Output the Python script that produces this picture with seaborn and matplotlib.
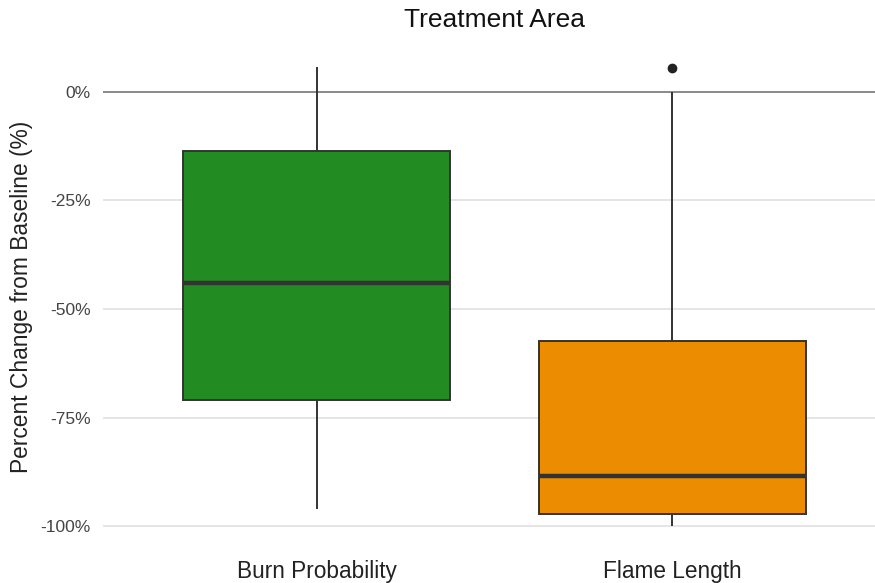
import matplotlib
matplotlib.use("Agg")
import matplotlib.pyplot as plt
import seaborn as sns
import pandas as pd

categories = ["Burn Probability", "Flame Length"]
burn_values = [5.8, -13.6, -44.0, -71.0, -96.0]
flame_values = [5.5, 0.0, -57.4, -70.0, -88.5, -93.0, -97.2, -98.0, -100.0]
box_colors = ["#228B22", "#EC8C00"]
y_ticks = [0, -25, -50, -75, -100]
y_tick_labels = ["0%", "-25%", "-50%", "-75%", "-100%"]

df = pd.DataFrame({
    "metric": [categories[0]] * len(burn_values) + [categories[1]] * len(flame_values),
    "value": burn_values + flame_values,
})

sns.set_theme(style="white")
plt.rcParams["font.family"] = ["Liberation Sans", "DejaVu Sans"]

fig = plt.figure(figsize=(8.75, 5.83), dpi=100)
ax = fig.add_axes([103 / 875, 0.058, 783 / 875, 0.867])

for t in y_ticks[1:]:
    ax.axhline(t, color="#E3E3E3", linewidth=1.3, zorder=0)
ax.axhline(0, color="#808080", linewidth=1.3, zorder=0.5)

sns.boxplot(
    data=df, x="metric", y="value", hue="metric", order=categories,
    palette=dict(zip(categories, box_colors)), legend=False, width=0.75,
    linewidth=1.4, linecolor="#333333", showcaps=False, saturation=1,
    whis=1.5,
    medianprops=dict(linewidth=3.2, color="#333333"),
    flierprops=dict(marker="o", markersize=6, markerfacecolor="#222222",
                    markeredgecolor="#222222"),
    ax=ax,
)

ax.set_xlim(-0.6, 1.6)
ax.set_ylim(-105.3, 11.1)
ax.set_yticks(y_ticks)
ax.set_yticklabels(y_tick_labels, fontsize=12.5, color="#444444")
ax.tick_params(axis="x", labelsize=16.3, colors="#222222", pad=8, length=0)
ax.tick_params(axis="y", pad=9, length=0)
ax.set_xlabel("")
ax.set_ylabel("Percent Change from Baseline (%)", fontsize=16.4, color="#222222", labelpad=5)
ax.set_title("Treatment Area", fontsize=19, color="#111111", pad=12)
for s in ax.spines.values():
    s.set_visible(False)

fig.savefig("out.png", dpi=100)
